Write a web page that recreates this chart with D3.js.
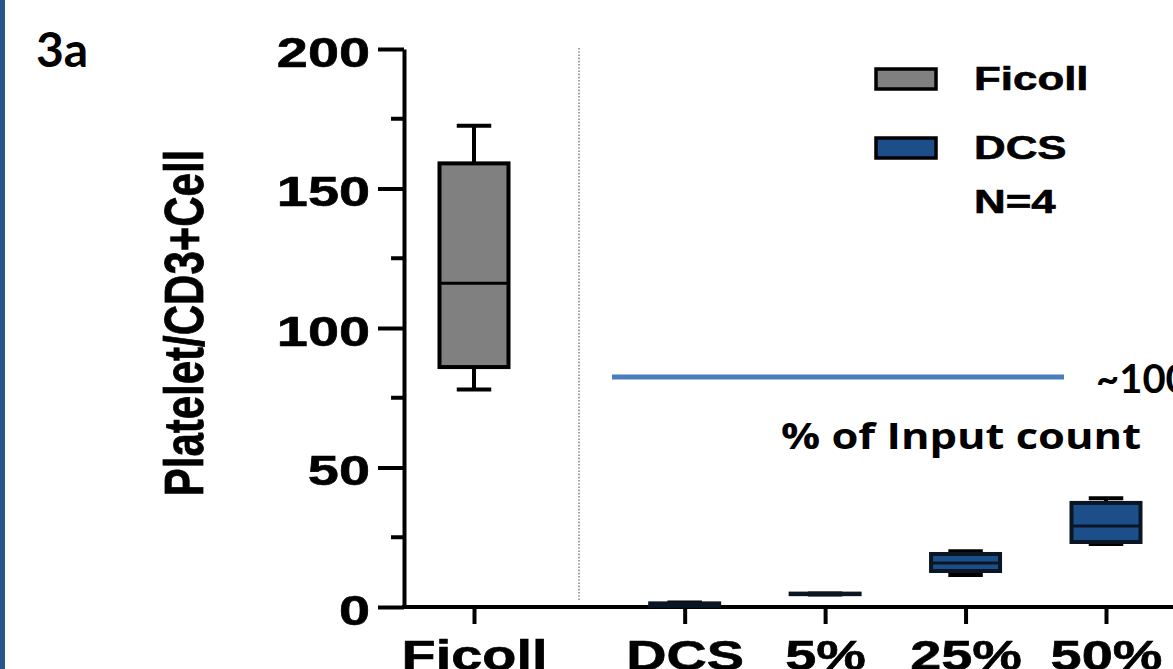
<!DOCTYPE html>
<html>
<head>
<meta charset="utf-8">
<script src="https://cdn.jsdelivr.net/npm/d3@7"></script>
<style>
  html, body { margin: 0; padding: 0; background: #fff; }
  svg { display: block; }
</style>
</head>
<body>
<div id="chart"></div>
<script>
// box plot values
const groups  = ["Ficoll", "DCS", "5%", "25%", "50%"];
const series  = ["Ficoll", "DCS", "DCS", "DCS", "DCS"];
const mins    = [78,   0.2, 4.5, 11.5, 22.6];
const q1s     = [86,   0.4, 4.6, 12.9, 23.3];
const medians = [116,  0.8, 4.7, 15.8, 29];
const q3s     = [159,  1.3, 4.8, 19,   37.3];
const maxs    = [172.5,1.6, 4.8, 20,   39];

const yTicks      = [0, 50, 100, 150, 200];
const yMinorTicks = [25, 75, 125, 175];
const legendItems = ["Ficoll", "DCS"];
const inputCount  = 100;   // the "~100" reference line

const W = 1173, H = 669;
const stretch = 1.33;      // the figure is pasted stretched sideways
const fill = { Ficoll: "#808080", DCS: "#1c4f8a" };
const armFont = "'Liberation Sans', Arial, sans-serif";

const svg = d3.select("#chart").append("svg")
  .attr("width", W).attr("height", H);

svg.append("rect").attr("width", W).attr("height", H).attr("fill", "#fff");
// slide edge on the left
svg.append("rect").attr("x", 0).attr("y", 0).attr("width", 5).attr("height", H).attr("fill", "#2a5690");

const axisX = 404;
const y = d3.scaleLinear().domain([0, 200]).range([607, 49]);
// Ficoll sits alone, the DCS group is set off by half a step
const slot = i => i === 0 ? 0 : i + 0.5;
const x = d3.scaleLinear().domain([0, 4.5]).range([474, 1106]);

const boldText = sel => sel
  .style("font-family", armFont).style("font-weight", "bold")
  .attr("fill", "#000").attr("stroke", "#000").attr("stroke-width", 0.6);

// separator
svg.append("line")
  .attr("x1", 579).attr("x2", 579).attr("y1", 48).attr("y2", 601)
  .attr("stroke", "#8a8a8a").attr("stroke-width", 1.6)
  .attr("stroke-dasharray", "1.6,1.6");

// y axis
const gy = svg.append("g").attr("transform", `translate(${axisX},0)`);
gy.call(d3.axisLeft(y).tickValues(yTicks).tickSize(26).tickSizeOuter(0).tickPadding(0));
gy.select(".domain").attr("stroke", "#000").attr("stroke-width", 4);
gy.selectAll(".tick line").attr("stroke", "#000").attr("stroke-width", 4);
gy.selectAll(".tick text")
  .attr("x", -34 / stretch).attr("dy", 17)
  .attr("transform", `scale(${stretch},1)`)
  .attr("text-anchor", "end")
  .style("font-size", "42px")
  .call(boldText);
svg.append("g").selectAll("line")
  .data(yMinorTicks).join("line")
  .attr("x1", axisX - 13).attr("x2", axisX)
  .attr("y1", d => y(d)).attr("y2", d => y(d))
  .attr("stroke", "#000").attr("stroke-width", 4);

// x axis
svg.append("line")
  .attr("x1", axisX - 2).attr("x2", W).attr("y1", y(0)).attr("y2", y(0))
  .attr("stroke", "#000").attr("stroke-width", 4);
const gx = svg.append("g").attr("transform", `translate(0,${y(0)})`);
gx.call(d3.axisBottom(x).tickValues(groups.map((_, i) => slot(i)))
  .tickFormat((d, i) => groups[i]).tickSize(17).tickSizeOuter(0));
gx.select(".domain").remove();
gx.selectAll(".tick line").attr("stroke", "#000").attr("stroke-width", 4);
gx.selectAll(".tick text")
  .attr("x", 0).attr("y", 63).attr("dy", 0)
  .attr("transform", `scale(${stretch},1)`)
  .style("font-size", "42px")
  .call(boldText);

// boxes
const boxW = 69;
const boxes = svg.append("g").selectAll("g")
  .data(groups.map((g, i) => ({ g, i, s: series[i] })))
  .join("g")
  .attr("transform", d => `translate(${x(slot(d.i))},0)`);

boxes.append("line")
  .attr("y1", d => y(maxs[d.i])).attr("y2", d => y(q3s[d.i]))
  .attr("stroke", "#000").attr("stroke-width", 4);
boxes.append("line")
  .attr("y1", d => y(mins[d.i])).attr("y2", d => y(q1s[d.i]))
  .attr("stroke", "#000").attr("stroke-width", 4);
boxes.append("line")
  .attr("x1", -boxW / 4).attr("x2", boxW / 4)
  .attr("y1", d => y(maxs[d.i])).attr("y2", d => y(maxs[d.i]))
  .attr("stroke", "#000").attr("stroke-width", 4);
boxes.append("line")
  .attr("x1", -boxW / 4).attr("x2", boxW / 4)
  .attr("y1", d => y(mins[d.i])).attr("y2", d => y(mins[d.i]))
  .attr("stroke", "#000").attr("stroke-width", 4);
boxes.append("rect")
  .attr("x", -boxW / 2).attr("width", boxW)
  .attr("y", d => y(q3s[d.i]))
  .attr("height", d => y(q1s[d.i]) - y(q3s[d.i]))
  .attr("fill", d => fill[d.s])
  .attr("stroke", d => d.s === "DCS" ? "#0b1624" : "#000")
  .attr("stroke-width", 4);
boxes.append("line")
  .attr("x1", -boxW / 2).attr("x2", boxW / 2)
  .attr("y1", d => y(medians[d.i])).attr("y2", d => y(medians[d.i]))
  .attr("stroke", d => d.s === "DCS" ? "#0b1624" : "#000").attr("stroke-width", 3);

// y label
svg.append("text")
  .attr("transform", `translate(203,323) scale(${stretch},1) rotate(-90)`)
  .attr("text-anchor", "middle")
  .style("font-size", "42px")
  .call(boldText)
  .text("Platelet/CD3+Cell");

// legend
const leg = svg.append("g").selectAll("g")
  .data(legendItems).join("g")
  .attr("transform", (d, i) => `translate(876,${69 + i * 69})`);
leg.append("rect")
  .attr("width", 60).attr("height", 20)
  .attr("fill", d => fill[d]).attr("stroke", "#000").attr("stroke-width", 3.5);
leg.append("text")
  .attr("transform", `translate(98,21) scale(${stretch},1)`)
  .style("font-size", "33px")
  .call(boldText)
  .text(d => d);
svg.append("text")
  .attr("transform", `translate(974,213) scale(${stretch},1)`)
  .style("font-size", "33px")
  .call(boldText)
  .text("N=4");

// input count marker
svg.append("line")
  .attr("x1", 612).attr("x2", 1064).attr("y1", 377).attr("y2", 377)
  .attr("stroke", "#4a7dbd").attr("stroke-width", 5);
svg.append("text")
  .attr("x", 1096).attr("y", 393)
  .style("font-family", "Lato, sans-serif").style("font-weight", "bold").style("font-size", "40px")
  .text("~" + inputCount);
svg.append("text")
  .attr("x", 781).attr("y", 449)
  .attr("textLength", 360).attr("lengthAdjust", "spacingAndGlyphs")
  .style("font-family", "'Open Sans', sans-serif").style("font-weight", "bold").style("font-size", "36px")
  .text("% of Input count");

// panel tag
svg.append("text")
  .attr("x", 36).attr("y", 67)
  .style("font-family", "Lato, sans-serif").style("font-weight", "bold").style("font-size", "48px")
  .text("3a");
</script>
</body>
</html>
